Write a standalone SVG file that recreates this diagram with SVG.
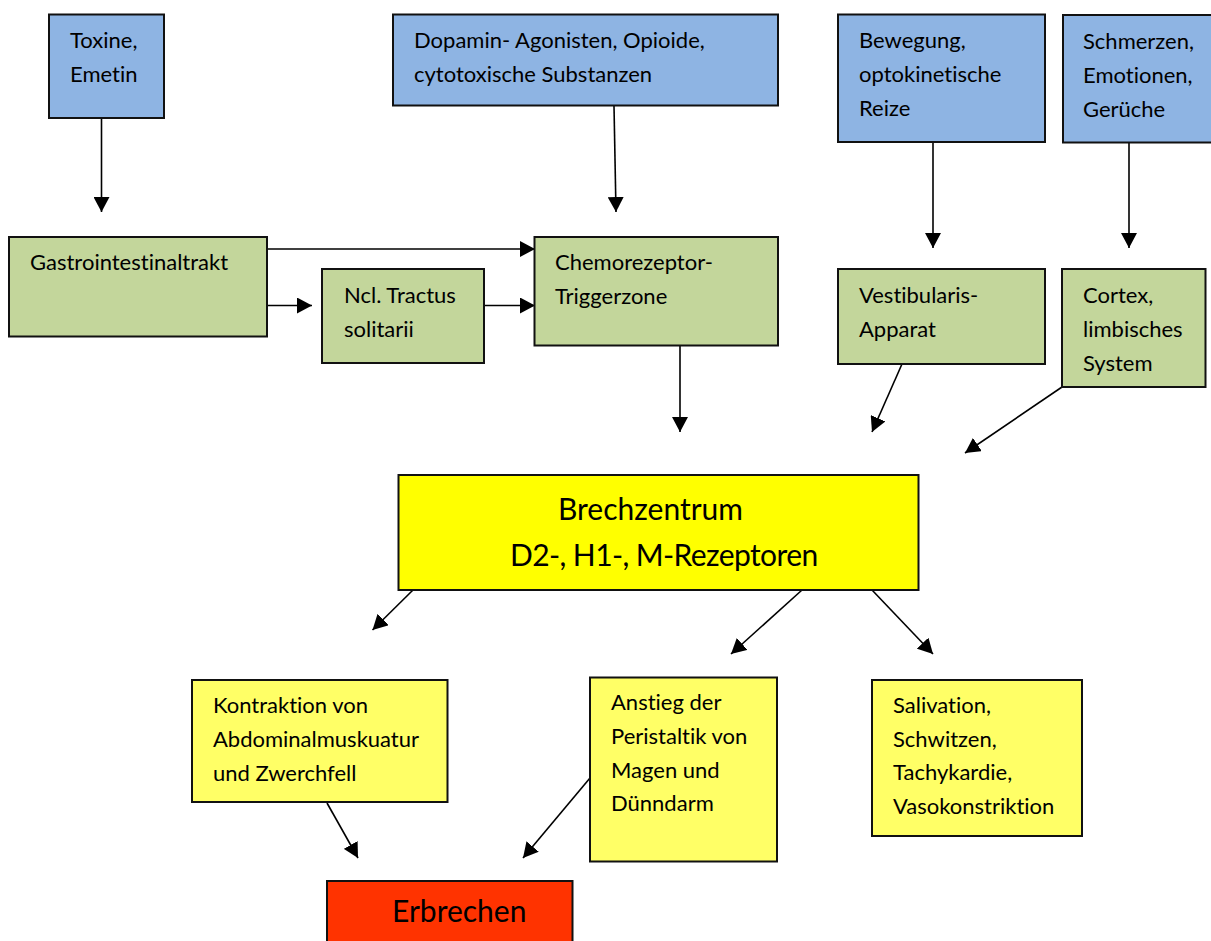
<svg xmlns="http://www.w3.org/2000/svg" width="1211" height="941" viewBox="0 0 1211 941">
<style>
.box{stroke:#111;stroke-width:2}
.blue{fill:#8EB4E3}
.green{fill:#C3D69B}
.yel{fill:#FFFF00}
.lyel{fill:#FFFF66}
.red{fill:#FF3300}
text{font-family:Lato,"Open Sans",sans-serif;font-size:22px;fill:#000;font-variant-ligatures:none}
.big{font-size:30px}
.tight{letter-spacing:-0.6px}
.con{stroke:#000;stroke-width:1.6;fill:none;marker-end:url(#ah)}
</style>
<defs>
<marker id="ah" markerUnits="userSpaceOnUse" markerWidth="16" markerHeight="16" refX="15" refY="8" orient="auto">
<path d="M0,0 L15,8 L0,16 z" fill="#000"/>
</marker>
</defs>
<rect width="1211" height="941" fill="#fff"/>
<g id="connectors">
<line class="con" x1="101.5" y1="118" x2="101.5" y2="212"/>
<line class="con" x1="614" y1="106" x2="616" y2="212"/>
<line class="con" x1="267" y1="249" x2="535" y2="249"/>
<line class="con" x1="267" y1="305.5" x2="312" y2="305.5"/>
<line class="con" x1="484" y1="305.5" x2="535" y2="305.5"/>
<line class="con" x1="680" y1="345" x2="680" y2="432"/>
<line class="con" x1="933" y1="142" x2="933" y2="248"/>
<line class="con" x1="1129" y1="143" x2="1129" y2="248"/>
<line class="con" x1="902" y1="364" x2="872" y2="432"/>
<line class="con" x1="1062" y1="387" x2="965" y2="453"/>
<line class="con" x1="413" y1="590" x2="372.5" y2="630"/>
<line class="con" x1="802" y1="590" x2="731" y2="654"/>
<line class="con" x1="872" y1="590" x2="933" y2="654"/>
<line class="con" x1="327" y1="803" x2="358" y2="858"/>
<line class="con" x1="590" y1="778" x2="523" y2="858"/>
</g>
<g id="toxine">
<rect class="box blue" x="49" y="14.5" width="115" height="103.5"/>
<text x="70" y="48">Toxine,</text>
<text x="70" y="82">Emetin</text>
</g>
<g id="dopamin">
<rect class="box blue" x="393" y="14.5" width="385" height="91"/>
<text x="414" y="48">Dopamin- Agonisten, Opioide,</text>
<text x="414" y="82">cytotoxische Substanzen</text>
</g>
<g id="bewegung">
<rect class="box blue" x="838" y="14.5" width="207" height="127.5"/>
<text x="859" y="48">Bewegung,</text>
<text x="859" y="82">optokinetische</text>
<text x="859" y="116">Reize</text>
</g>
<g id="schmerzen">
<rect class="box blue" x="1063" y="15" width="160" height="127.5"/>
<text x="1083" y="49">Schmerzen,</text>
<text x="1083" y="83">Emotionen,</text>
<text x="1083" y="117">Gerüche</text>
</g>
<g id="gastro">
<rect class="box green" x="9" y="237" width="258" height="99.5"/>
<text x="30" y="270">Gastrointestinaltrakt</text>
</g>
<g id="ncl">
<rect class="box green" x="322" y="269" width="162" height="94"/>
<text x="344" y="303">Ncl. Tractus</text>
<text x="344" y="337">solitarii</text>
</g>
<g id="chemo">
<rect class="box green" x="534.5" y="237" width="243.5" height="108.5"/>
<text x="555" y="270">Chemorezeptor-</text>
<text x="555" y="304">Triggerzone</text>
</g>
<g id="vestib">
<rect class="box green" x="838" y="269" width="207" height="95"/>
<text x="859" y="303">Vestibularis-</text>
<text x="859" y="337">Apparat</text>
</g>
<g id="cortex">
<rect class="box green" x="1062" y="269" width="143.5" height="118"/>
<text x="1083" y="303">Cortex,</text>
<text x="1083" y="337">limbisches</text>
<text x="1083" y="371">System</text>
</g>
<g id="brechzentrum">
<rect class="box yel" x="398.5" y="475" width="520" height="115"/>
<text class="big" x="558" y="520">Brechzentrum</text>
<text class="big tight" x="510" y="566">D2-, H1-, M-Rezeptoren</text>
</g>
<g id="kontraktion">
<rect class="box lyel" x="192" y="680" width="255.5" height="122"/>
<text x="213" y="713">Kontraktion von</text>
<text x="213" y="747">Abdominalmuskuatur</text>
<text x="213" y="781">und Zwerchfell</text>
</g>
<g id="anstieg">
<rect class="box lyel" x="590" y="677.5" width="187" height="184"/>
<text x="611" y="710">Anstieg der</text>
<text x="611" y="744">Peristaltik von</text>
<text x="611" y="778">Magen und</text>
<text x="611" y="811">Dünndarm</text>
</g>
<g id="salivation">
<rect class="box lyel" x="872" y="680" width="210" height="156"/>
<text x="893" y="713">Salivation,</text>
<text x="893" y="747">Schwitzen,</text>
<text x="893" y="780">Tachykardie,</text>
<text x="893" y="814">Vasokonstriktion</text>
</g>
<g id="erbrechen">
<rect class="box red" x="327" y="881" width="245.5" height="70"/>
<text class="big" x="392" y="922">Erbrechen</text>
</g>
</svg>
